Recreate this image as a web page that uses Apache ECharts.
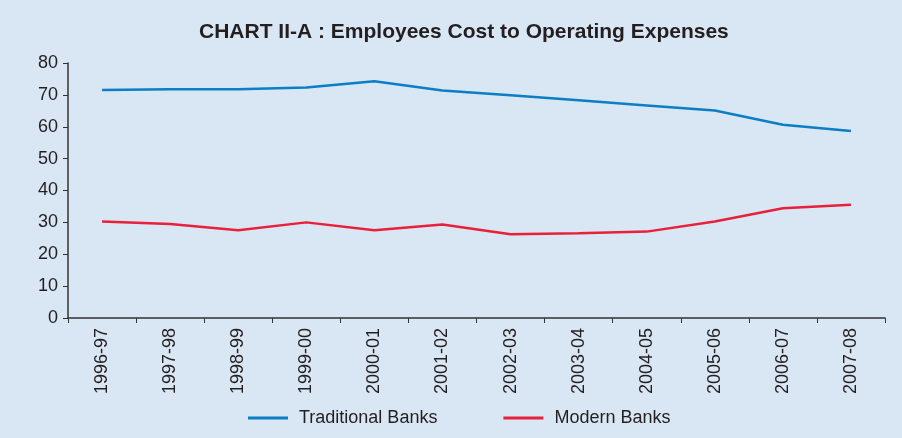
<!DOCTYPE html>
<html><head><meta charset="utf-8">
<script src="https://cdn.jsdelivr.net/npm/echarts@6/dist/echarts.min.js"></script>
<style>html,body{margin:0;padding:0;background:#d9e6f3;}#c{width:902px;height:438px;}</style>
</head><body><div id="c"></div>
<script>
var categories = ['1996-97','1997-98','1998-99','1999-00','2000-01','2001-02','2002-03','2003-04','2004-05','2005-06','2006-07','2007-08'];
var traditionalBanks = [71.5, 71.8, 71.8, 72.3, 74.3, 71.4, 69.9, 68.3, 66.7, 65.1, 60.6, 58.7];
var modernBanks = [30.3, 29.5, 27.5, 30.0, 27.5, 29.3, 26.3, 26.6, 27.1, 30.3, 34.4, 35.5];
var yTicks = [0, 10, 20, 30, 40, 50, 60, 70, 80];

var chart = echarts.init(document.getElementById('c'));
var txt = '#231f20';
chart.setOption({
  backgroundColor: '#d9e6f3',
  animation: false,
  title: {
    text: 'CHART II-A : Employees Cost to Operating Expenses',
    left: 194, top: 17,
    textStyle: {fontFamily: 'Liberation Sans', fontSize: 21, fontWeight: 'bold', color: txt}
  },
  legend: {
    top: 404, left: 243, itemGap: 66, itemWidth: 40, itemHeight: 3,
    icon: 'rect',
    textStyle: {fontFamily: 'Liberation Sans', fontSize: 18, color: txt, padding: [0,0,0,6]},
    data: ['Traditional Banks', 'Modern Banks']
  },
  grid: {left: 68, right: 17, top: 63, bottom: 120},
  xAxis: {
    type: 'category', data: categories, boundaryGap: true,
    axisLine: {lineStyle: {color: '#333', width: 1.5}},
    axisTick: {show: true, length: 5, lineStyle: {color: '#333'}},
    axisLabel: {rotate: 90, fontFamily: 'Liberation Sans', fontSize: 18, color: txt, margin: 10}
  },
  yAxis: {
    type: 'value', min: yTicks[0], max: yTicks[yTicks.length-1], interval: 10,
    splitLine: {show: false},
    axisLine: {show: true, lineStyle: {color: '#333', width: 1.5}},
    axisTick: {show: true, length: 5, lineStyle: {color: '#333'}},
    axisLabel: {fontFamily: 'Liberation Sans', fontSize: 18, color: txt, margin: 10}
  },
  series: [
    {name: 'Traditional Banks', type: 'line', data: traditionalBanks, symbol: 'none',
     color: '#0b7ec6', lineStyle: {width: 2.5, color: '#0b7ec6'}},
    {name: 'Modern Banks', type: 'line', data: modernBanks, symbol: 'none',
     color: '#e9203a', lineStyle: {width: 2.5, color: '#e9203a'}}
  ]
});
</script></body></html>
